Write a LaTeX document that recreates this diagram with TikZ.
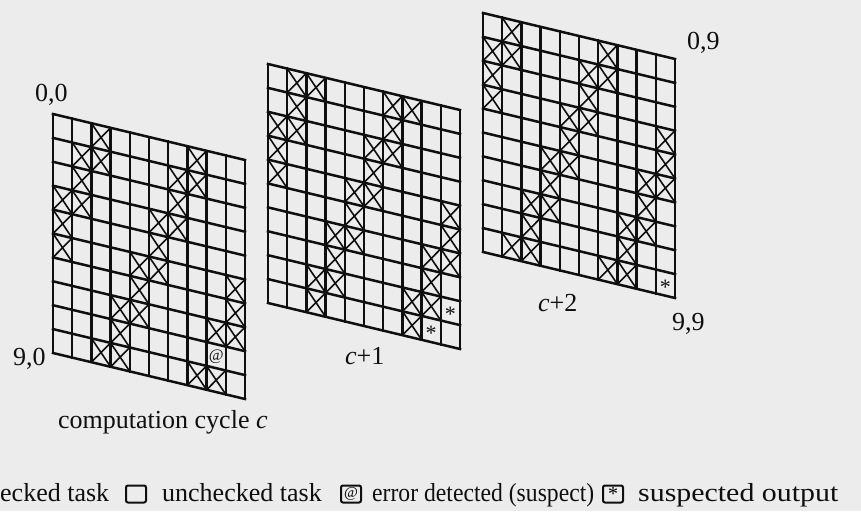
\documentclass[tikz,border=0pt]{standalone}
\usepackage{fontspec}
\setmainfont{Liberation Serif}
\definecolor{bgc}{RGB}{236,236,236}
\definecolor{ink}{RGB}{15,15,15}
\newcommand\mygrid[3]{%
  \begin{scope}[shift={(#1,#2)}, x={(19.2pt,-4.6pt)}, y={(0pt,-23.9pt)}]
    \foreach \c in {0,...,9}{
      \pgfmathtruncatemacro\sr{mod(3-#3-2*\c+20,10)}
      \foreach \dr in {0,1,2}{
        \pgfmathtruncatemacro\rr{mod(\sr+\dr,10)}
        \pgfmathtruncatemacro\isomit{((#3==0)&&(\c==8)&&(\rr==8))?1:0}
        \ifnum\isomit=0
          \draw[crossline] (\c,\rr) -- ++(1,1) (\c+1,\rr) -- ++(-1,1);
        \fi
      }
    }
    \foreach \i in {0,...,10}{
      \draw[gridline] (0,\i) -- (10,\i);
      \draw[gridline] (\i,0) -- (\i,10);
    }
  \end{scope}}
\begin{document}
\begin{tikzpicture}[x=1pt,y=1pt,
  lbl/.style={font=\fontsize{26}{31}\selectfont, inner sep=0pt, anchor=base west, text=ink},
  gridline/.style={line width=2.5pt, line cap=rect, draw=ink},
  crossline/.style={line width=1.6pt, draw=ink},
  cellmark/.style={font=\fontsize{16}{18}\selectfont, inner sep=0pt, text=ink},
  starmark/.style={font=\fontsize{22}{26}\selectfont, inner sep=0pt, text=ink},
  legbox/.style={draw=ink, line width=2pt, rounded corners=2pt, minimum width=20pt, minimum height=17pt, inner sep=0pt}]
\fill[bgc] (0,0) rectangle (861,511);
\useasboundingbox (0,0) rectangle (861,511);

% grids
\mygrid{53}{397}{0}
\mygrid{268}{447}{1}
\mygrid{483}{498}{2}

% marks inside cells
\begin{scope}[shift={(53,397)}, x={(19.2pt,-4.6pt)}, y={(0pt,-23.9pt)}]
  \node[cellmark] (m1) at (8.5,8.5) {@};
\end{scope}
\begin{scope}[shift={(268,447)}, x={(19.2pt,-4.6pt)}, y={(0pt,-23.9pt)}]
  \node[starmark] (m2) at (9.5,8.65) {*};
  \node[starmark] (m3) at (8.5,9.65) {*};
\end{scope}
\begin{scope}[shift={(483,498)}, x={(19.2pt,-4.6pt)}, y={(0pt,-23.9pt)}]
  \node[starmark] (m4) at (9.5,9.65) {*};
\end{scope}

% labels
\node[lbl] (t00) at (35,409) {0,0};
\node[lbl] (t90) at (13,145.5) {9,0};
\node[lbl] (tc0) at (58,82) {computation cycle \textit{c}};
\node[lbl] (tc1) at (345,146) {\textit{c}+1};
\node[lbl] (tc2) at (538,199) {\textit{c}+2};
\node[lbl] (t99) at (672,180) {9,9};
\node[lbl] (t09) at (687,461) {0,9};

% legend
\node[lbl] (l1) at (0,10) {ecked task};
\node[legbox] (b2) at (136,17) {};
\node[lbl] (l2) at (162,10) {unchecked task};
\node[legbox] (b3) at (351,17) {\fontsize{15}{16}\selectfont @};
\node[lbl] (l3) at (372,10) {\scalebox{0.91}[1]{error detected (suspect)}};
\node[legbox] (b4) at (613,17) {\raisebox{-4pt}{\fontsize{20}{22}\selectfont *}};
\node[lbl] (l4) at (638,10) {\scalebox{1.15}[1]{suspected output}};
\end{tikzpicture}
\end{document}
